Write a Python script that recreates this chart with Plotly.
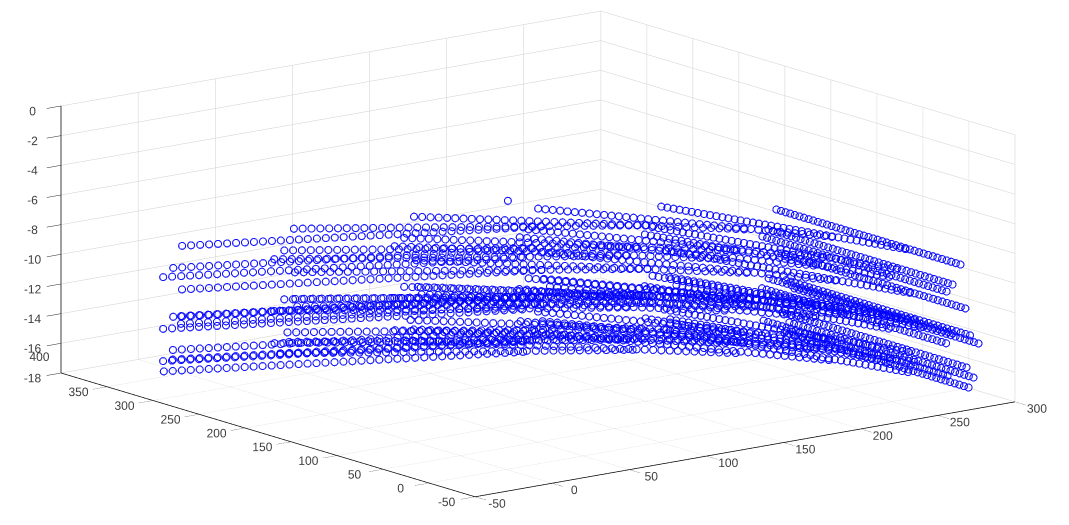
import plotly.graph_objects as go

# Scan rows: one (x, y) track per scan direction
track_a_x = [-9.2,-4.9,-0.5,3.8,8.1,12.5,16.8,21.1,25.4,29.8,34.1,38.4,42.8,47.1,51.4,55.8,60.1,64.4,68.7,73.1,77.4,81.7,86.1,90.4,94.7,99.1,103.4,107.7,112.0,116.4,120.7,125.0,129.4,133.7,138.0,142.4,146.7,151.0,155.3,159.7,164.0]
track_a_y = [337,334.5,332,329.5,327,324.5,322,319.5,317,314.5,312,309.5,307,304.5,302,299.5,297,294.5,292,289.5,287,284.5,282,279.5,277,274.5,272,269.5,267,264.5,262,259.5,257,254.5,252,249.5,247,244.5,242,239.5,237]
track_b_x = [59.8,63.5,67.2,71,74.7,78.4,82.1,85.8,89.5,93.2,97,100.7,104.4,108.1,111.8,115.5,119.3,123,126.7,130.4,134.1,137.8,141.6,145.3,149,152.7,156.4,160.1,163.8,167.6,171.3,175,178.7,182.4,186.1,189.9,193.6,197.3,201,204.7,208.4]
track_b_y = [331.2,327.9,324.5,321.2,317.8,314.5,311.1,307.8,304.4,301.1,297.7,294.4,291,287.7,284.4,281,277.7,274.3,271,267.6,264.3,260.9,257.6,254.2,250.9,247.5,244.2,240.9,237.5,234.2,230.8,227.5,224.1,220.8,217.4,214.1,210.7,207.4,204,200.7,197.4]
track_c_x = [125.3,128.2,131.2,134.1,137.1,140,142.9,145.9,148.8,151.8,154.7,157.6,160.6,163.5,166.4,169.4,172.3,175.3,178.2,181.1,184.1,187,190,192.9,195.8,198.8,201.7,204.7,207.6,210.5,213.5,216.4,219.4,222.3,225.2,228.2,231.1,234,237,239.9,242.9]
track_c_y = [310.5,306.5,302.4,298.4,294.3,290.3,286.2,282.2,278.1,274.1,270,266,262,257.9,253.9,249.8,245.8,241.7,237.7,233.6,229.6,225.6,221.5,217.5,213.4,209.4,205.3,201.3,197.2,193.2,189.1,185.1,181,177,172.9,168.9,164.9,160.8,156.8,152.7,148.7]
track_d_x = [187,189,191.1,193.1,195.1,197.2,199.2,201.2,203.3,205.3,207.3,209.4,211.4,213.4,215.5,217.5,219.5,221.6,223.6,225.6,227.7,229.7,231.7,233.8,235.8,237.9,239.9,241.9,244,246,248,250.1,252.1,254.1,256.2,258.2,260.2,262.3,264.3,266.3,268.4]
track_d_y = [279,274.4,269.9,265.3,260.7,256.2,251.6,247,242.5,237.9,233.3,228.8,224.2,219.6,215,210.5,205.9,201.3,196.8,192.2,187.6,183.1,178.5,173.9,169.4,164.8,160.2,155.7,151.1,146.5,141.9,137.4,132.8,128.2,123.7,119.1,114.5,110,105.4,100.8,96.3]
track_e_x = [240,241,242.1,243.1,244.2,245.2,246.2,247.3,248.3,249.4,250.4,251.4,252.5,253.5,254.6,255.6,256.6,257.7,258.7,259.8,260.8,261.8,262.9,263.9,265,266,267,268.1,269.1,270.2,271.2,272.2,273.3,274.3,275.4,276.4,277.4,278.5,279.5,280.6,281.6]
track_e_y = [234,229.1,224.2,219.3,214.4,209.6,204.7,199.8,194.9,190,185.1,180.2,175.3,170.4,165.5,160.6,155.7,150.9,146,141.1,136.2,131.3,126.4,121.5,116.6,111.7,106.8,101.9,97.1,92.2,87.3,82.4,77.5,72.6,67.7,62.8,57.9,53,48.1,43.2,38.4]
track_f_x = [283]*41
track_f_y = [181,176,171,166,161,156,151,146,141,136,131,126,121,116,111,106,101,96,91,86,81,76,71,66,61,56,51,46,41,36,31,26,21,16,11,6,1,-4,-9,-14,-19]

# Depth of each of the twelve layers
layer_z = [-9,-10.4,-10.97,-12.02,-13.9,-14.55,-14.45,-13.7,-16.16,-16.92,-16.65,-17.68]

# Horizontal shift of each layer on each track
shift_a_x = [0,-5.4,-10.5,1.6,2.8,5.6,-10.7,-5.3,-0.9,1.4,-10.2,-3.1]
shift_a_y = [0,0.6,3,2.8,5.9,10.6,2.7,0.8,8.5,12.4,3.6,14.7]
shift_b_x = [0,-5.2,-9.7,2.1,4,7.7,-9.9,-5.1,0.9,3.9,-9.2,0.1]
shift_b_y = [0,1.7,5.1,2.4,5.2,9.3,4.9,1.9,8.5,11.8,5.6,15]
shift_c_x = [0,-4.7,-8.4,2.6,5,9.4,-8.7,-4.6,2.6,6.3,-7.9,3.2]
shift_c_y = [0,2.8,7,1.9,4.2,7.5,6.8,2.9,8.1,10.8,7.4,14.7]
shift_d_x = [0,-4,-6.8,2.9,5.7,10.8,-7.1,-3.9,4.3,8.4,-6.1,6.2]
shift_d_y = [0,3.7,8.6,1.3,3.1,5.3,8.5,3.8,7.4,9.2,8.9,13.7]
shift_e_x = [0,-3.2,-4.8,3.1,6.3,11.6,-5.1,-3,5.7,10.1,-4.2,8.9]
shift_e_y = [0,4.4,9.8,0.7,1.8,3,9.7,4.5,6.3,7.3,10,12.1]
shift_f_x = [0,-2.2,-2.7,3.2,6.5,12,-3,-2,6.9,11.4,-2,11.2]
shift_f_y = [0,5,10.6,0,0.5,0.5,10.6,5,5,5,10.6,10]

# Lone point above the layers
stray_x = [165]
stray_y = [275]
stray_z = [-8]

x_ticks = [-50,0,50,100,150,200,250,300]
y_ticks = [-50,0,50,100,150,200,250,300,350,400]
z_ticks = [-18,-16,-14,-12,-10,-8,-6,-4,-2,0]
x_labels = ["-50","0","50","100","150","200","250","300"]
y_labels = ["-50","0","50","100","150","200","250","300","350",""]
z_labels = ["-18","-16","-14","-12","-10","-8","-6","-4","-2","0"]

# The y label at the left corner, set apart from the z label there
corner_text = ["400"]
corner_x = [-50]
corner_y = [400]
corner_z = [-18]

tracks = [(track_a_x,track_a_y,shift_a_x,shift_a_y),(track_b_x,track_b_y,shift_b_x,shift_b_y),
          (track_c_x,track_c_y,shift_c_x,shift_c_y),(track_d_x,track_d_y,shift_d_x,shift_d_y),
          (track_e_x,track_e_y,shift_e_x,shift_e_y),(track_f_x,track_f_y,shift_f_x,shift_f_y)]

xs, ys, zs = list(stray_x), list(stray_y), list(stray_z)
for tx, ty, sx, sy in tracks:
    for k, zv in enumerate(layer_z):
        for a, b in zip(tx, ty):
            xs.append(a + sx[k]); ys.append(b + sy[k]); zs.append(zv)

fig = go.Figure(go.Scatter3d(x=xs, y=ys, z=zs, mode="markers",
    marker=dict(symbol="circle-open", size=4.4, color="#0000ff", opacity=0.75, line=dict(color="#0000ff", width=0.5)),
    hoverinfo="skip"))
fig.add_trace(go.Scatter3d(x=corner_x, y=corner_y, z=corner_z, mode="text", text=corner_text,
    textposition="top left", textfont=dict(family="Liberation Sans", size=12, color="#404040"), hoverinfo="skip"))

def ax(rng, ticks, labels, tlen):
    return dict(range=rng, tickmode="array", tickvals=ticks, ticktext=labels,
                title=dict(text=""), showbackground=False, showgrid=True, gridcolor="#cfcfcf", gridwidth=1,
                showline=True, linecolor="#000000", linewidth=1.5, zeroline=False, ticks="outside",
                ticklen=tlen, tickwidth=1, tickangle=0, tickcolor="#262626",
                tickfont=dict(family="Liberation Sans", size=12, color="#404040"),
                showspikes=False, mirror=False)

D = 5
cen = dict(x=0.0048, y=-0.022, z=-0.0615)
fig.update_layout(width=1069, height=525, margin=dict(l=0, r=0, t=0, b=0), paper_bgcolor="white",
    showlegend=False,
    scene=dict(domain=dict(x=[0,1], y=[0,1]),
        xaxis=ax([-50,300], x_ticks, x_labels, 18), yaxis=ax([-50,400], y_ticks, y_labels, 18), zaxis=ax([-18,0], z_ticks, z_labels, 8),
        aspectmode="manual", aspectratio=dict(x=2.592, y=2.592, z=1.045),
        camera=dict(projection=dict(type="orthographic"), center=cen, up=dict(x=0,y=0,z=1),
            eye=dict(x=cen["x"]-0.5923*D, y=cen["y"]-0.7723*D, z=cen["z"]+0.2293*D))))
fig.write_html("out.html", config=dict(displayModeBar=False))
